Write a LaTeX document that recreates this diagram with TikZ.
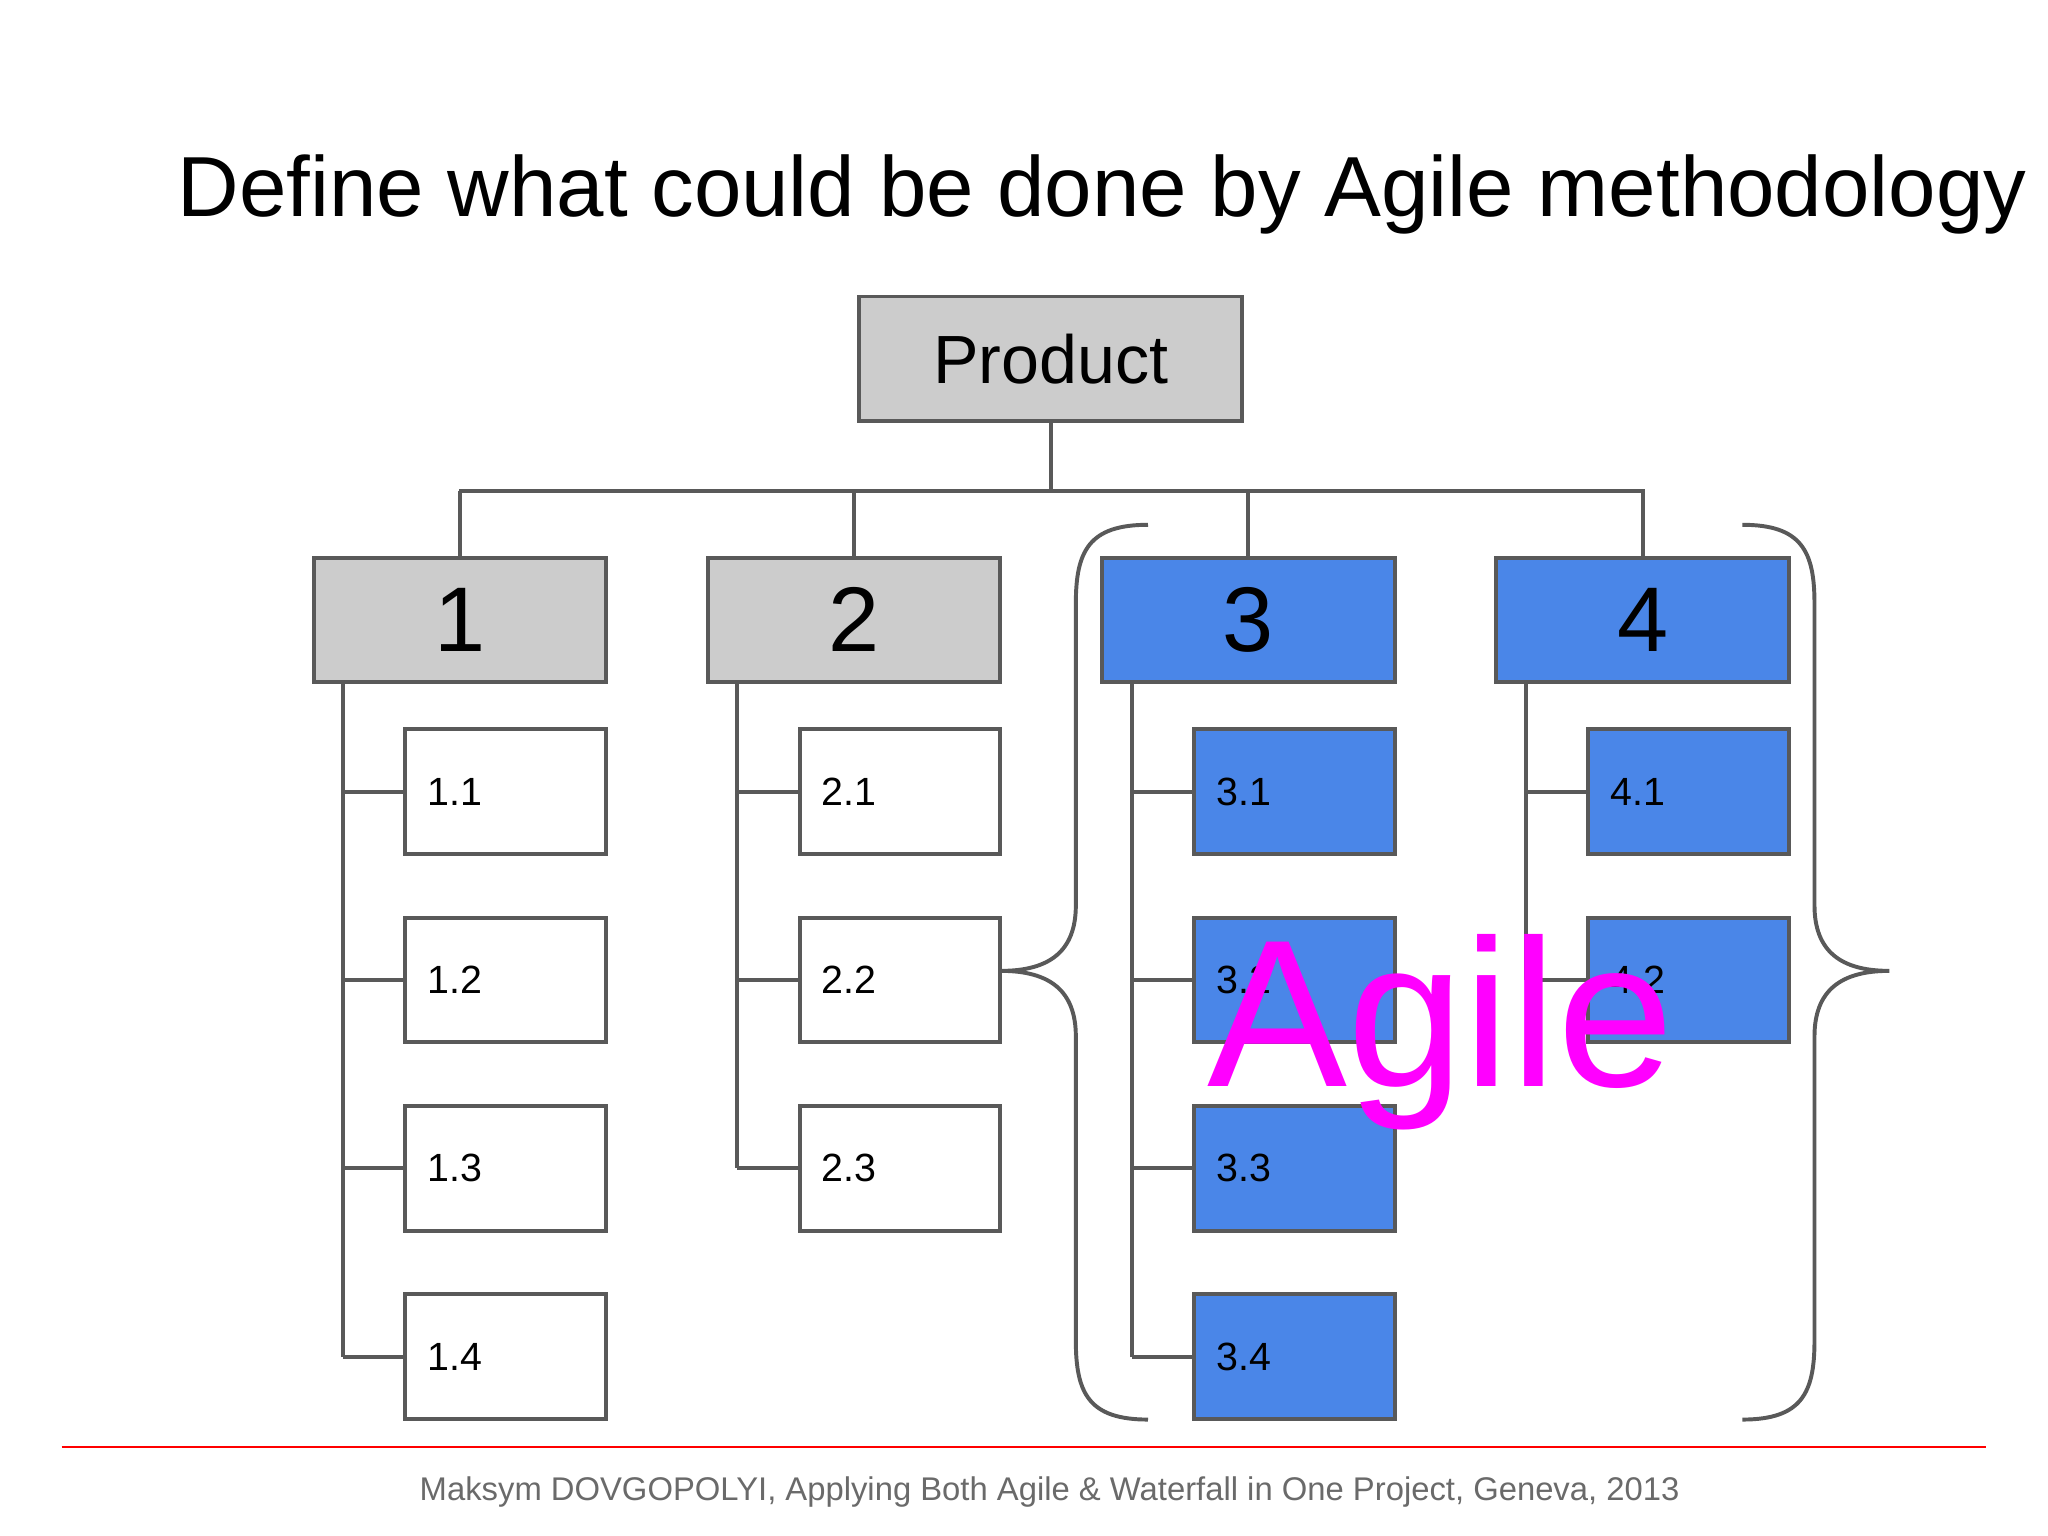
\documentclass[tikz,border=0pt]{standalone}
\usepackage{fontspec}
\setmainfont{Liberation Sans}
\definecolor{boxblue}{HTML}{4A86E8}
\definecolor{linegray}{HTML}{595959}
\definecolor{boxgray}{HTML}{CCCCCC}
\definecolor{agilemag}{HTML}{FF00FF}
\begin{document}
\begin{tikzpicture}[x=0.5pt,y=-0.5pt,
  ln/.style={draw=linegray,line width=1.5pt},
  top/.style={ln,minimum width=111.5pt,minimum height=47.5pt,inner sep=0pt,font=\fontsize{35}{40}\selectfont},
  kid/.style={ln,minimum width=76.5pt,minimum height=47.5pt,inner xsep=8.5pt,inner ysep=0pt,text width=59.5pt,align=left,font=\fontsize{15}{18}\selectfont}]
\useasboundingbox (0,0) rectangle (1561,1170);
\node[font=\fontsize{32.5}{38}\selectfont] (title) at (840,148) {Define what could be done by Agile methodology};
\node[ln,fill=boxgray,minimum width=146pt,minimum height=47.5pt,inner sep=0pt,font=\fontsize{26}{30}\selectfont] (P) at (801,273.5) {Product};
\node[top,fill=boxgray] (t1) at (350.5,472.5) {1};
\node[top,fill=boxgray] (t2) at (651,472.5) {2};
\node[top,fill=boxblue] (t3) at (951.5,472.5) {3};
\node[top,fill=boxblue] (t4) at (1252,472.5) {4};
\coordinate (hl) at (350,374); \coordinate (hr) at (1254,374);
\draw[ln] (hl) -- (hr);
\draw[ln] (P.south) -- (P.south |- hl);
\foreach \t in {t1,t2,t3,t4} \draw[ln] (\t.north) -- (\t.north |- hl);
% children
\foreach \p/\n/\c/\f in {t1/4/1/white,t2/3/2/white,t3/4/3/boxblue,t4/2/4/boxblue}{
  \foreach \i in {1,...,\n}{
    \node[kid,fill=\f] (k\c\i) at ([xshift=17.5pt]\p.south |- 0,{603.5+143.5*(\i-1)}) {\c.\i};
    \coordinate (s\c\i) at ([xshift=12pt]\p.south west |- k\c\i.west);
    \draw[ln] (s\c\i) -- (k\c\i.west);
  }
  \draw[ln] ([xshift=12pt]\p.south west) -- (s\c\n);
}
% braces
\draw[ln] (875,400) .. controls (830,400) and (820,420) .. (820,460) -- (820,690)
  .. controls (820,725) and (800,740) .. (763,740)
  .. controls (800,740) and (820,755) .. (820,790) -- (820,1022)
  .. controls (820,1062) and (830,1082) .. (875,1082);
\draw[ln] (1328,400) .. controls (1373,400) and (1383,420) .. (1383,460) -- (1383,690)
  .. controls (1383,725) and (1403,740) .. (1440,740)
  .. controls (1403,740) and (1383,755) .. (1383,790) -- (1383,1022)
  .. controls (1383,1062) and (1373,1082) .. (1328,1082);
\node[text=agilemag,font=\fontsize{80}{90}\selectfont,anchor=base,inner sep=0pt] (ag) at (1098,828) {Agile};
\coordinate (rl) at (47,1103); \coordinate (rr) at (1514,1103);
\draw[red,line width=1pt] (rl) -- (rr);
\node[text=linegray!90,font=\fontsize{12.5}{15}\selectfont] (foot) at (800,1137) {Maksym DOVGOPOLYI, Applying Both Agile \& Waterfall in One Project, Geneva, 2013};
\end{tikzpicture}
\end{document}
